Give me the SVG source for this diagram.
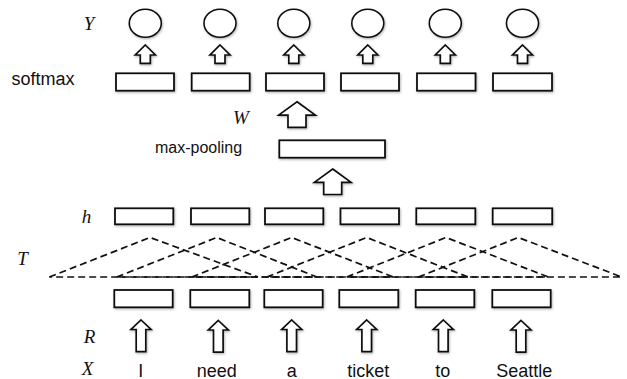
<svg xmlns="http://www.w3.org/2000/svg" xmlns:xlink="http://www.w3.org/1999/xlink" width="627" height="379" viewBox="0 0 627 379">
  <style>
    .box { fill: #ffffff; stroke: #111111; stroke-width: 1.8; filter: url(#shade); }
    .node { fill: #ffffff; stroke: #111111; stroke-width: 1.6; filter: url(#shade); }
    .blk { fill: #ffffff; stroke: #111111; stroke-width: 1.7; stroke-linejoin: miter; filter: url(#shade); }
    .dash { fill: none; stroke: #111111; stroke-width: 1.7; stroke-dasharray: 7 4; }
    .sym { font-family: "Liberation Serif", "Times New Roman", serif; font-style: italic; font-size: 19px; fill: #111111; text-anchor: middle; }
    .lbl { font-family: "Liberation Sans", Arial, sans-serif; fill: #111111; }
    .word { font-family: "Liberation Sans", Arial, sans-serif; font-size: 18px; fill: #111111; text-anchor: middle; }
  </style>
  <defs>
    <filter id="shade" x="-20%" y="-20%" width="140%" height="160%">
      <feDropShadow dx="0.8" dy="1.2" stdDeviation="0.8" flood-color="#000000" flood-opacity="0.3"/>
    </filter>
    <!-- block arrows, drawn with the tip at the origin -->
    <path id="arrowSmall" d="M0,0 L10,10 L5,10 L5,18.3 L-5,18.3 L-5,10 L-10,10 Z"/>
    <path id="arrowTall" d="M0,0 L10,9.5 L4.8,9.5 L4.8,31.7 L-4.8,31.7 L-4.8,9.5 L-10,9.5 Z"/>
    <path id="arrowBig" d="M0,0 L18.3,13.3 L9,13.3 L9,25.5 L-9,25.5 L-9,13.3 L-18.3,13.3 Z"/>
  </defs>

  <rect width="627" height="379" fill="#ffffff"/>

  <!-- row labels -->
  <g id="labels">
    <text class="sym" x="89" y="29.5">Y</text>
    <text class="lbl" x="11.5" y="85" font-size="18">softmax</text>
    <text class="sym" x="241" y="123.5">W</text>
    <text class="lbl" x="155" y="153.3" font-size="16">max-pooling</text>
    <text class="sym" x="86.5" y="222.5">h</text>
    <text class="sym" x="22.5" y="265">T</text>
    <text class="sym" x="89.5" y="342.5">R</text>
    <text class="sym" x="87.5" y="375">X</text>
  </g>

  <!-- output nodes Y -->
  <g id="y-nodes">
    <ellipse class="node" cx="145.3" cy="23.3" rx="16" ry="14"/>
    <ellipse class="node" cx="220" cy="23.3" rx="16" ry="14"/>
    <ellipse class="node" cx="293.8" cy="23.3" rx="16" ry="14"/>
    <ellipse class="node" cx="367.8" cy="23.3" rx="16" ry="14"/>
    <ellipse class="node" cx="445.3" cy="23.3" rx="16" ry="14"/>
    <ellipse class="node" cx="522.5" cy="23.3" rx="16" ry="14"/>
  </g>

  <!-- softmax layer -->
  <g id="softmax-layer">
    <rect class="box" x="116" y="73.3" width="58" height="17.4"/>
    <rect class="box" x="191.7" y="73.3" width="58" height="17.4"/>
    <rect class="box" x="266" y="73.3" width="58" height="17.4"/>
    <rect class="box" x="341" y="73.3" width="58" height="17.4"/>
    <rect class="box" x="417" y="73.3" width="58.5" height="17.4"/>
    <rect class="box" x="493" y="73.3" width="59" height="17.4"/>
  </g>

  <!-- max-pooling node -->
  <g id="max-pooling">
    <rect class="box" x="279.3" y="140.3" width="105.7" height="17.4"/>
  </g>

  <!-- hidden layer h -->
  <g id="h-layer">
    <rect class="box" x="115" y="208.3" width="58.3" height="16"/>
    <rect class="box" x="191" y="208.3" width="58.3" height="16"/>
    <rect class="box" x="265" y="208.3" width="58.3" height="16"/>
    <rect class="box" x="340.5" y="208.3" width="58.5" height="16"/>
    <rect class="box" x="416.3" y="208.3" width="59" height="16"/>
    <rect class="box" x="492.7" y="208.3" width="59.5" height="16"/>
  </g>

  <!-- word representation layer -->
  <g id="r-layer">
    <rect class="box" x="114.3" y="290" width="58.4" height="17.3"/>
    <rect class="box" x="190.3" y="290" width="59" height="17.3"/>
    <rect class="box" x="264.3" y="290" width="58.4" height="17.3"/>
    <rect class="box" x="339.3" y="290" width="59" height="17.3"/>
    <rect class="box" x="415.7" y="290" width="58.6" height="17.3"/>
    <rect class="box" x="492.3" y="290" width="58.4" height="17.3"/>
  </g>

  <!-- input words X -->
  <g id="x-words">
    <text class="word" x="140.7" y="376.5">I</text>
    <text class="word" x="216.7" y="376.5">need</text>
    <text class="word" x="291.7" y="376.5">a</text>
    <text class="word" x="368.3" y="376.5">ticket</text>
    <text class="word" x="442.8" y="376.5">to</text>
    <text class="word" x="524.2" y="376.5">Seattle</text>
  </g>

  <g id="connectors">
    <!-- softmax to Y -->
    <use class="blk" xlink:href="#arrowSmall" x="145.3" y="45"/>
    <use class="blk" xlink:href="#arrowSmall" x="220" y="45"/>
    <use class="blk" xlink:href="#arrowSmall" x="293.8" y="45"/>
    <use class="blk" xlink:href="#arrowSmall" x="367.8" y="45"/>
    <use class="blk" xlink:href="#arrowSmall" x="445.3" y="45"/>
    <use class="blk" xlink:href="#arrowSmall" x="522.5" y="45"/>
    <!-- max-pooling to softmax (W) and h to max-pooling -->
    <use class="blk" xlink:href="#arrowBig" x="297" y="101.8"/>
    <use class="blk" xlink:href="#arrowBig" x="332.7" y="169"/>
    <!-- convolution windows T -->
    <polygon class="dash" points="49.3,277 150,237.5 258,277"/>
    <polygon class="dash" points="116.7,277 216.7,237.5 317,277"/>
    <polygon class="dash" points="191.7,277 291.7,237.5 393.3,277"/>
    <polygon class="dash" points="266.7,277 366.7,237.5 468,277"/>
    <polygon class="dash" points="346.7,277 446,237.5 548.3,277"/>
    <polygon class="dash" points="418.3,277 518.3,237.5 621.7,277"/>
    <!-- words to representations (R) -->
    <use class="blk" xlink:href="#arrowTall" x="141" y="320"/>
    <use class="blk" xlink:href="#arrowTall" x="218.3" y="320.5"/>
    <use class="blk" xlink:href="#arrowTall" x="291.7" y="320"/>
    <use class="blk" xlink:href="#arrowTall" x="366.7" y="320"/>
    <use class="blk" xlink:href="#arrowTall" x="443.3" y="320"/>
    <use class="blk" xlink:href="#arrowTall" x="521" y="320.5"/>
  </g>
</svg>
